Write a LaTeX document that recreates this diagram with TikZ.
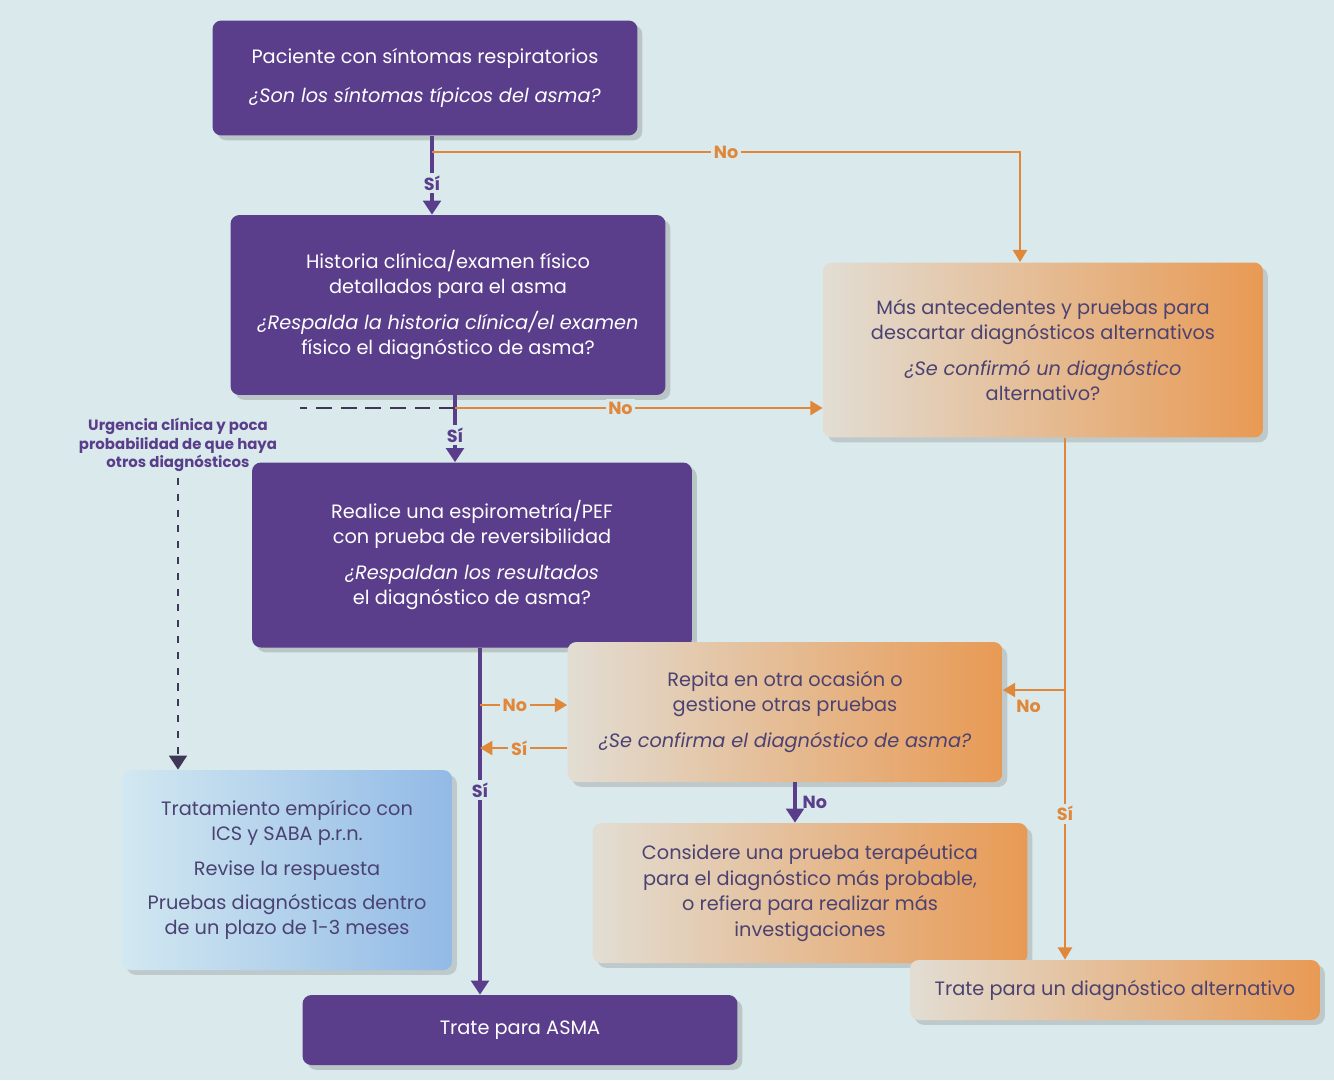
\documentclass[tikz,border=0pt]{standalone}
\usepackage{fontspec}
\setmainfont{Poppins}
\usepackage{xcolor}
\usetikzlibrary{arrows.meta,positioning,shadows}
\definecolor{fondo}{HTML}{DAEAEC}
\definecolor{morado}{HTML}{5A3E8C}
\definecolor{naranja}{HTML}{E0873A}
\definecolor{beige}{HTML}{E2DDD3}
\definecolor{naranjacaja}{HTML}{E89A54}
\definecolor{azulclaro}{HTML}{D2E8F1}
\definecolor{azulcaja}{HTML}{92BAE6}
\definecolor{textomorado}{HTML}{4B4272}
\definecolor{gris}{HTML}{3E3756}
\tikzset{font=\fontsize{11}{14.5}\selectfont}
\tikzstyle{purplebox}=[rectangle,rounded corners=5pt,fill=morado,text=white,align=center,drop shadow={opacity=.35}]
\tikzstyle{orangebox}=[rectangle,rounded corners=5pt,left color=beige,right color=naranjacaja,text=textomorado,align=center,drop shadow={opacity=.3}]
\tikzstyle{bluebox}=[rectangle,rounded corners=5pt,left color=azulclaro,right color=azulcaja,text=textomorado,align=center,drop shadow={opacity=.3}]
\tikzstyle{lblsi}=[fill=fondo,inner sep=1.5pt,text=morado,font=\bfseries\fontsize{10}{12}\selectfont]
\tikzstyle{lblno}=[fill=fondo,inner sep=1.5pt,text=naranja,font=\bfseries\fontsize{10}{12}\selectfont]
\tikzstyle{lineasi}=[draw=morado,line width=2pt,-{Triangle[width=10pt,length=8pt]}]
\tikzstyle{lineano}=[draw=naranja,line width=1.3pt,-{Triangle[width=8pt,length=7pt]}]

\begin{document}
\begin{tikzpicture}[x=0.02cm,y=-0.02cm]
\fill[fondo] (0,0) rectangle (1334,1080);
\useasboundingbox (0,0) rectangle (1334,1080);
% cajas
\node[purplebox,minimum width=8.5cm,minimum height=2.3cm] (sintomas) at (425,78)
  {Paciente con síntomas respiratorios\\[8pt]\itshape ¿Son los síntomas típicos del asma?};
\node[purplebox,minimum width=8.7cm,minimum height=3.6cm] (historia) at (448,305)
  {Historia clínica/examen físico\\ detallados para el asma\\[6pt]\itshape ¿Respalda la historia clínica/el examen\\ físico el diagnóstico de asma?};
\node[purplebox,minimum width=8.8cm,minimum height=3.7cm] (espirometria) at (472,555)
  {Realice una espirometría/PEF\\ con prueba de reversibilidad\\[6pt]\itshape ¿Respaldan los resultados\\ el diagnóstico de asma?};
\node[orangebox,minimum width=8.8cm,minimum height=3.5cm] (alternativos) at (1043,350)
  {Más antecedentes y pruebas para\\ descartar diagnósticos alternativos\\[6pt]\itshape ¿Se confirmó un diagnóstico\\ alternativo?};
\node[orangebox,minimum width=8.7cm,minimum height=2.8cm] (repita) at (785,712)
  {Repita en otra ocasión o\\ gestione otras pruebas\\[6pt]\itshape ¿Se confirma el diagnóstico de asma?};
\node[orangebox,minimum width=8.7cm,minimum height=2.8cm] (considere) at (810,893)
  {Considere una prueba terapéutica\\ para el diagnóstico más probable,\\ o refiera para realizar más\\ investigaciones};
\node[bluebox,minimum width=6.6cm,minimum height=4cm] (empirico) at (287,870)
  {Tratamiento empírico con\\ ICS y SABA p.r.n.\\[5pt] Revise la respuesta\\[5pt] Pruebas diagnósticas dentro\\ de un plazo de 1-3 meses};
\node[purplebox,minimum width=8.7cm,minimum height=1.4cm] (asma) at (520,1030) {Trate para ASMA};
\node[orangebox,minimum width=8.2cm,minimum height=1.2cm] (tratealt) at (1115,990)
  {Trate para un diagnóstico alternativo};
\node[text=morado,align=center,font=\bfseries\fontsize{8.5}{10.5}\selectfont] (urgencia) at (178,445)
  {Urgencia clínica y poca\\ probabilidad de que haya\\ otros diagnósticos};
% puntos de union
\coordinate (j1) at (432,152);
\coordinate (k1) at (1020,152);
\coordinate (j2) at (455,408);
\coordinate (d1) at (300,408);
\coordinate (j3) at (480,705);
\coordinate (s3) at (480,748);
\coordinate (k2) at (1065,440);
\coordinate (k3) at (1065,690);
% conectores
\draw[morado,line width=2pt] (sintomas.south -| j1) -- (j1);
\path (j1) edge[lineasi] node[lblsi] {Sí} (historia.north -| j1);
\draw[lineano] (j1) -- node[lblno,pos=.5] {No} (k1) -- (alternativos.north -| k1);
\draw[morado,line width=2pt] (historia.south -| j2) -- (j2);
\path (j2) edge[lineasi] node[lblsi] {Sí} (espirometria.north -| j2)
      (j2) edge[lineano] node[lblno,pos=.45] {No} (alternativos.west |- j2);
\draw[gris,line width=1.6pt,dash pattern=on 9pt off 5pt] (j2) -- (d1);
\draw[gris,line width=1.6pt,dash pattern=on 4pt off 5pt,-{Triangle[width=10pt,length=8pt]}]
  (urgencia.south) -- (empirico.north -| urgencia);
\path (espirometria.south -| j3) edge[lineasi] node[lblsi,pos=.41] {Sí} (asma.north -| j3)
      (j3) edge[lineano] node[lblno,pos=.4] {No} (repita.west |- j3)
      (repita.west |- s3) edge[lineano] node[lblno,pos=.55] {Sí} (s3)
      (repita.south -| 795,0) edge[lineasi] node[right,text=morado,font=\bfseries\fontsize{10}{12}\selectfont] {No} (considere.north -| 795,0);
\draw[lineano] (alternativos.south -| k2) -- node[lblno,pos=.72] {Sí} (tratealt.north -| k2);
\path (k3) edge[lineano] node[below right=2pt and -14pt,text=naranja,font=\bfseries\fontsize{10}{12}\selectfont] {No} (repita.east |- k3);
\end{tikzpicture}
\end{document}
